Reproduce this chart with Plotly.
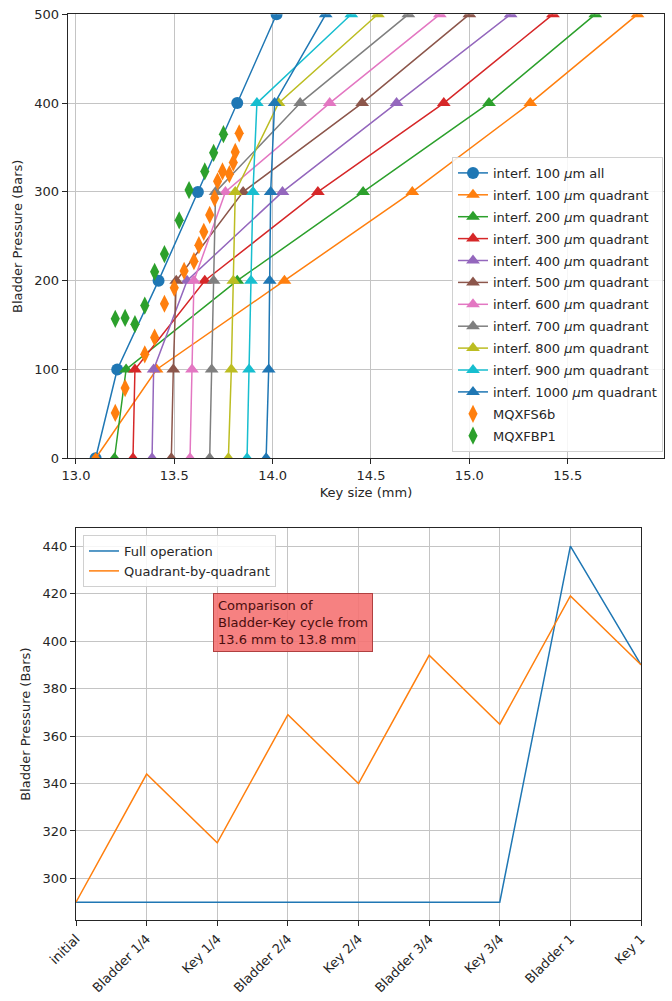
import plotly.graph_objects as go

# ---------------- data: top chart ----------------
pressure = [0, 100, 200, 300, 400, 500]

key_all_100 = [13.10, 13.21, 13.42, 13.62, 13.82, 14.02]
key_q100 = [13.10, 13.41, 14.06, 14.71, 15.31, 15.855]
key_q200 = [13.196, 13.255, 13.82, 14.46, 15.10, 15.64]
key_q300 = [13.29, 13.30, 13.655, 14.23, 14.87, 15.425]
key_q400 = [13.387, 13.395, 13.565, 14.05, 14.63, 15.21]
key_q500 = [13.485, 13.495, 13.51, 13.85, 14.455, 15.0]
key_q600 = [13.58, 13.59, 13.60, 13.76, 14.29, 14.85]
key_q700 = [13.68, 13.69, 13.70, 13.71, 14.14, 14.69]
key_q800 = [13.775, 13.79, 13.80, 13.81, 14.03, 14.535]
key_q900 = [13.87, 13.88, 13.89, 13.90, 13.92, 14.40]
key_q1000 = [13.967, 13.98, 13.985, 13.99, 14.01, 14.27]

s6b_key = [13.20, 13.25, 13.35, 13.40, 13.45, 13.50, 13.55, 13.60, 13.625, 13.65,
           13.68, 13.705, 13.72, 13.745, 13.78, 13.80, 13.81, 13.83]
s6b_pressure = [51, 79, 117, 136, 174, 192, 211, 222, 240, 255,
                274, 293, 312, 323, 320, 333, 345, 366]

bp1_key = [13.20, 13.25, 13.30, 13.35, 13.40, 13.45, 13.525, 13.575, 13.655, 13.70, 13.75]
bp1_pressure = [157, 158, 151, 172, 210, 230, 268, 302, 323, 344, 365]

x_ticks_top = [13.0, 13.5, 14.0, 14.5, 15.0, 15.5]
y_ticks_top = [0, 100, 200, 300, 400, 500]

# ---------------- data: bottom chart ----------------
steps = ["initial", "Bladder 1/4", "Key 1/4", "Bladder 2/4", "Key 2/4",
         "Bladder 3/4", "Key 3/4", "Bladder 1", "Key 1"]
full_operation = [290, 290, 290, 290, 290, 290, 290, 440, 390]
quadrant_by_quadrant = [290, 344, 315, 369, 340, 394, 365, 419, 390]
y_ticks_bottom = [300, 320, 340, 360, 380, 400, 420, 440]

# ---------------- styling ----------------
FONT = "DejaVu Sans, Arial, sans-serif"
FS = 13
TXT = "#262626"
GRID = "#c4c4c4"
tab10 = ["#1f77b4", "#ff7f0e", "#2ca02c", "#d62728", "#9467bd",
         "#8c564b", "#e377c2", "#7f7f7f", "#bcbd22", "#17becf"]

fig = go.Figure()

series = [
    ("interf. 100 <i>μ</i>m all", key_all_100, "circle"),
    ("interf. 100 <i>μ</i>m quadrant", key_q100, "triangle-up"),
    ("interf. 200 <i>μ</i>m quadrant", key_q200, "triangle-up"),
    ("interf. 300 <i>μ</i>m quadrant", key_q300, "triangle-up"),
    ("interf. 400 <i>μ</i>m quadrant", key_q400, "triangle-up"),
    ("interf. 500 <i>μ</i>m quadrant", key_q500, "triangle-up"),
    ("interf. 600 <i>μ</i>m quadrant", key_q600, "triangle-up"),
    ("interf. 700 <i>μ</i>m quadrant", key_q700, "triangle-up"),
    ("interf. 800 <i>μ</i>m quadrant", key_q800, "triangle-up"),
    ("interf. 900 <i>μ</i>m quadrant", key_q900, "triangle-up"),
    ("interf. 1000 <i>μ</i>m quadrant", key_q1000, "triangle-up"),
]
for i, (name, keys, sym) in enumerate(series):
    c = tab10[i % 10]
    fig.add_trace(go.Scatter(
        x=keys, y=pressure, name=name, mode="lines+markers",
        line=dict(color=c, width=1.5),
        marker=dict(symbol=sym, size=12, color=c, line=dict(width=0)),
        xaxis="x", yaxis="y", legend="legend", legendgroup=f"g{i}",
    ))

fig.add_trace(go.Scatter(
    x=s6b_key, y=s6b_pressure, name="MQXFS6b", mode="markers",
    marker=dict(symbol="diamond-tall", size=13, color=tab10[1], line=dict(width=0)),
    xaxis="x", yaxis="y", legend="legend", legendgroup="g11",
))
fig.add_trace(go.Scatter(
    x=bp1_key, y=bp1_pressure, name="MQXFBP1", mode="markers",
    marker=dict(symbol="diamond-tall", size=13, color=tab10[2], line=dict(width=0)),
    xaxis="x", yaxis="y", legend="legend", legendgroup="g12",
))

# bottom chart
fig.add_trace(go.Scatter(
    x=steps, y=full_operation, name="Full operation", mode="lines",
    line=dict(color=tab10[0], width=1.5), xaxis="x2", yaxis="y2", legend="legend2",
))
fig.add_trace(go.Scatter(
    x=steps, y=quadrant_by_quadrant, name="Quadrant-by-quadrant", mode="lines",
    line=dict(color=tab10[1], width=1.5), xaxis="x2", yaxis="y2", legend="legend2",
))

axis_common = dict(
    showline=True, mirror=True, linecolor="#262626", linewidth=1.2,
    showgrid=True, gridcolor=GRID, gridwidth=1,
    ticks="outside", ticklen=5, tickwidth=1, tickcolor="#262626",
    tickfont=dict(family=FONT, size=FS, color=TXT), zeroline=False,
    automargin=False,
)
title_font = dict(family=FONT, size=FS, color=TXT)

fig.update_layout(
    width=672, height=1001,
    margin=dict(l=0, r=0, t=0, b=0),
    paper_bgcolor="white", plot_bgcolor="white",
    font=dict(family=FONT, size=FS, color=TXT),
    xaxis=dict(domain=[0.1007, 0.9885], anchor="y", range=[12.958, 15.991],
               tickvals=x_ticks_top, tickformat=".1f",
               title=dict(text="Key size (mm)", font=title_font, standoff=5),
               **axis_common),
    yaxis=dict(domain=[0.5422, 0.9857], anchor="x", range=[0, 500],
               tickvals=y_ticks_top,
               title=dict(text="Bladder Pressure (Bars)", font=title_font, standoff=8),
               **axis_common),
    xaxis2=dict(domain=[0.1131, 0.9539], anchor="y2", type="category", range=[0, 8],
                tickangle=-45,
                **axis_common),
    yaxis2=dict(domain=[0.0809, 0.4722], anchor="x2", range=[282.5, 447.5],
                tickvals=y_ticks_bottom,
                title=dict(text="Bladder Pressure (Bars)", font=title_font, standoff=8),
                **axis_common),
    legend=dict(x=0.9866, y=0.5485, xanchor="right", yanchor="bottom",
                bgcolor="rgba(255,255,255,0.85)", bordercolor="#d0d0d0", borderwidth=1,
                font=dict(family=FONT, size=FS, color=TXT),
                traceorder="grouped", tracegroupgap=2, itemwidth=30),
    legend2=dict(x=0.1235, y=0.4655, xanchor="left", yanchor="top",
                 bgcolor="rgba(255,255,255,0.85)", bordercolor="#d0d0d0", borderwidth=1,
                 font=dict(family=FONT, size=FS, color=TXT), itemwidth=30),
    annotations=[dict(
        x=0.317, y=0.4076, xref="paper", yref="paper", xanchor="left", yanchor="top",
        text="Comparison of<br>Bladder-Key cycle from<br>13.6 mm to 13.8 mm",
        showarrow=False, align="left",
        font=dict(family=FONT, size=FS, color="#4a0e0e"),
        bgcolor="rgba(245,115,115,0.9)", bordercolor="#b04040", borderwidth=1, borderpad=4,
    )],
)

fig.write_html("out.html")
